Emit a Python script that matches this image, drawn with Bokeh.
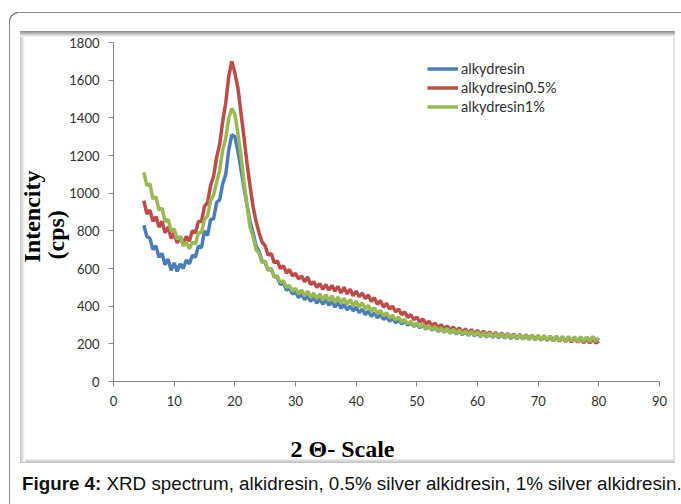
from bokeh.plotting import figure
from bokeh.models import (Range1d, Legend, LegendItem, FixedTicker, ColumnDataSource,
                          Title, Div)
from bokeh.layouts import column
from bokeh.embed import file_html
from bokeh.resources import INLINE

# ---------------- data ----------------
THETA = [5.0, 5.5, 6.0, 6.5, 7.0, 7.5, 8.0, 8.5, 9.0, 9.5,
         10.0, 10.5, 11.0, 11.5, 12.0, 12.5, 13.0, 13.5, 14.0, 14.5,
         15.0, 15.5, 16.0, 16.5, 17.0, 17.5, 18.0, 18.5, 19.0, 19.5,
         20.0, 20.5, 21.0, 21.5, 22.0, 22.5, 23.0, 23.5, 24.0, 24.5,
         25.0, 25.5, 26.0, 26.5, 27.0, 27.5, 28.0, 28.5, 29.0, 29.5,
         30.0, 30.5, 31.0, 31.5, 32.0, 32.5, 33.0, 33.5, 34.0, 34.5,
         35.0, 35.5, 36.0, 36.5, 37.0, 37.5, 38.0, 38.5, 39.0, 39.5,
         40.0, 40.5, 41.0, 41.5, 42.0, 42.5, 43.0, 43.5, 44.0, 44.5,
         45.0, 45.5, 46.0, 46.5, 47.0, 47.5, 48.0, 48.5, 49.0, 49.5,
         50.0, 50.5, 51.0, 51.5, 52.0, 52.5, 53.0, 53.5, 54.0, 54.5,
         55.0, 55.5, 56.0, 56.5, 57.0, 57.5, 58.0, 58.5, 59.0, 59.5,
         60.0, 60.5, 61.0, 61.5, 62.0, 62.5, 63.0, 63.5, 64.0, 64.5,
         65.0, 65.5, 66.0, 66.5, 67.0, 67.5, 68.0, 68.5, 69.0, 69.5,
         70.0, 70.5, 71.0, 71.5, 72.0, 72.5, 73.0, 73.5, 74.0, 74.5,
         75.0, 75.5, 76.0, 76.5, 77.0, 77.5, 78.0, 78.5, 79.0, 79.5,
         80.0]

ALKYDRESIN = [830, 770, 760, 700, 720, 660, 680, 620, 650, 590,
              630, 585, 625, 600, 645, 625, 670, 660, 720, 710,
              800, 775, 860, 865, 950, 965, 1050, 1100, 1230, 1310,
              1300, 1225, 1130, 1030, 940, 850, 790, 720, 690, 640,
              630, 590, 600, 555, 555, 515, 525, 485, 495, 465,
              475, 445, 465, 435, 455, 425, 450, 415, 440, 410,
              435, 405, 425, 395, 420, 390, 410, 380, 400, 375,
              395, 365, 385, 355, 375, 345, 365, 338, 355, 330,
              345, 320, 338, 312, 330, 305, 322, 298, 314, 292,
              305, 285, 300, 278, 292, 272, 288, 266, 282, 262,
              278, 256, 272, 252, 268, 248, 265, 245, 262, 242,
              258, 238, 256, 236, 254, 234, 252, 232, 250, 230,
              248, 228, 246, 226, 245, 225, 244, 224, 242, 222,
              240, 220, 240, 218, 238, 216, 238, 215, 236, 214,
              236, 214, 235, 212, 234, 212, 236, 214, 238, 215,
              230]

ALKYDRESIN_05 = [960, 890, 910, 850, 875, 820, 850, 790, 820, 760,
                 790, 735, 770, 730, 770, 745, 800, 790, 850, 850,
                 930, 950, 1040, 1090, 1190, 1260, 1380, 1480, 1620, 1700,
                 1640, 1560, 1430, 1300, 1160, 1040, 930, 850, 790, 740,
                 720, 670, 680, 630, 640, 600, 615, 575, 595, 560,
                 575, 545, 560, 530, 555, 515, 530, 500, 520, 490,
                 515, 485, 510, 480, 505, 470, 500, 465, 490, 455,
                 480, 450, 470, 440, 460, 425, 445, 410, 430, 395,
                 415, 385, 400, 370, 385, 355, 370, 340, 355, 328,
                 342, 315, 332, 305, 320, 295, 310, 285, 302, 280,
                 295, 272, 290, 266, 284, 260, 280, 256, 276, 252,
                 272, 248, 268, 245, 264, 242, 260, 240, 258, 236,
                 255, 234, 252, 230, 250, 228, 248, 226, 246, 224,
                 244, 222, 242, 220, 240, 216, 238, 214, 236, 212,
                 234, 210, 232, 208, 230, 206, 228, 205, 226, 204,
                 215]

ALKYDRESIN_1 = [1110, 1040, 1050, 970, 980, 910, 920, 850, 860, 800,
                810, 755, 770, 720, 740, 705, 740, 730, 790, 790,
                860, 880, 960, 990, 1060, 1120, 1230, 1290, 1400, 1450,
                1420, 1320, 1200, 1060, 940, 820, 770, 700, 680, 630,
                640, 590, 600, 555, 560, 525, 535, 500, 510, 480,
                495, 465, 485, 455, 480, 445, 470, 440, 465, 432,
                460, 428, 455, 420, 448, 415, 442, 410, 435, 400,
                428, 395, 418, 385, 405, 372, 392, 360, 378, 348,
                365, 338, 352, 326, 342, 315, 330, 305, 320, 296,
                312, 288, 304, 280, 298, 274, 292, 268, 286, 262,
                282, 258, 278, 254, 274, 250, 270, 246, 266, 244,
                264, 240, 260, 238, 258, 236, 256, 234, 254, 232,
                252, 230, 250, 228, 248, 226, 246, 224, 246, 222,
                244, 220, 244, 218, 242, 216, 242, 216, 240, 214,
                240, 214, 238, 212, 238, 212, 236, 212, 238, 214,
                232]

SERIES_NAMES = ["alkydresin", "alkydresin0.5%", "alkydresin1%"]
X_TICKS = [0, 10, 20, 30, 40, 50, 60, 70, 80, 90]
Y_TICKS = [0, 200, 400, 600, 800, 1000, 1200, 1400, 1600, 1800]
X_LABEL = "2 \u0398- Scale"
Y_LABEL_1 = "Intencity"
Y_LABEL_2 = "(cps)"
CAPTION_BOLD = "Figure 4:"
CAPTION_REST = "XRD spectrum, alkidresin, 0.5% silver alkidresin, 1% silver alkidresin."

COLORS = ["#4a7ebb", "#be4b48", "#98b954"]

# ---------------- figure ----------------
p = figure(width=681, height=486, output_backend="svg", toolbar_location=None,
           x_range=Range1d(0, 90), y_range=Range1d(0, 1800),
           min_border_left=113, min_border_right=22,
           min_border_top=42, min_border_bottom=104)
p.outline_line_color = None
p.background_fill_color = None
p.border_fill_alpha = 0
p.grid.visible = False

src = ColumnDataSource(dict(x=THETA, a=ALKYDRESIN, b=ALKYDRESIN_05, c=ALKYDRESIN_1))
items = []
for col_name, name, color in zip(["a", "b", "c"], SERIES_NAMES, COLORS):
    r = p.line("x", col_name, source=src, line_color=color, line_width=3.5)
    items.append(LegendItem(label=name, renderers=[r]))

legend = Legend(items=items, location=(314, 265), orientation="vertical",
                label_text_font="Lato", label_text_font_size="14.5px",
                label_text_color="#303030", glyph_width=31, glyph_height=19,
                label_height=19, label_standoff=3, spacing=0, padding=0, margin=0,
                border_line_color=None, background_fill_alpha=0)
p.add_layout(legend)

for ax in (p.xaxis, p.yaxis):
    ax.axis_line_color = "#868686"
    ax.major_tick_line_color = "#868686"
    ax.minor_tick_line_color = None
    ax.major_tick_in = 0
    ax.major_tick_out = 5
    ax.major_label_text_font = "Lato"
    ax.major_label_text_font_size = "13px"
    ax.major_label_text_color = "#303030"
p.xaxis.ticker = FixedTicker(ticks=X_TICKS)
p.yaxis.ticker = FixedTicker(ticks=Y_TICKS)
p.xaxis.major_label_standoff = 9
p.yaxis.major_label_standoff = 9

title_style = dict(text_font="Liberation Serif", text_font_style="bold",
                   text_font_size="24px", text_color="black")
p.add_layout(Title(text=X_LABEL, align="left", offset=177, standoff=50, **title_style), "below")
p.add_layout(Title(text=Y_LABEL_2, align="left", offset=122, standoff=-4, **title_style), "left")
p.add_layout(Title(text=Y_LABEL_1, align="left", offset=119, standoff=-4, **title_style), "left")

caption = Div(text=(f'<div style="position:relative; top:-20px; padding:0 0 0 17px; white-space:nowrap; '
                    f'font-family:\'Liberation Sans\', Arial, sans-serif; font-size:18.8px; color:#111;">'
                    f'<b>{CAPTION_BOLD}</b> {CAPTION_REST}</div>'),
              width=681, height=18)

layers = [
    ("radial-gradient(circle at 100% 100%, transparent 8.5px, #8c8c8c 9px, #8c8c8c 10px, transparent 10.5px)", "9px 12px", "10px 10px"),
    ("linear-gradient(#8c8c8c, #8c8c8c)", "9px 21px", "1px 500px"),
    ("linear-gradient(#8c8c8c, #8c8c8c)", "18px 12px", "700px 1px"),
    ("linear-gradient(to bottom, #878787, #b8b8b8 40%, #ffffff)", "20px 31px", "655px 6px"),
    ("linear-gradient(to right, #c4c4c4, #ffffff)", "20px 31px", "5px 431px"),
    ("linear-gradient(to bottom, #f0f0f0, #bdbdbd)", "20px 459px", "655px 4px"),
    ("linear-gradient(#e2e2e2, #e2e2e2)", "673px 31px", "2px 431px"),
]
page = column(p, caption, styles={
    "background-color": "white",
    "background-image": ", ".join(l[0] for l in layers),
    "background-position": ", ".join(l[1] for l in layers),
    "background-size": ", ".join(l[2] for l in layers),
    "background-repeat": "no-repeat",
})

open("out.html", "w").write(file_html(page, INLINE))
